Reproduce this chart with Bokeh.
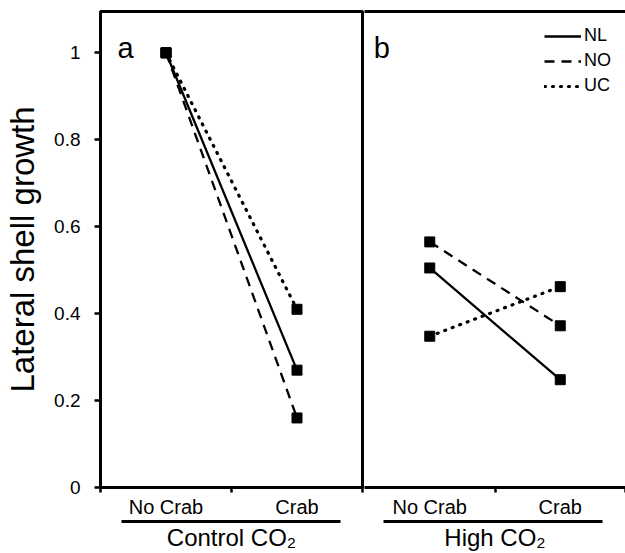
import numpy as np
from bokeh.plotting import figure
from bokeh.models import Range1d, LinearAxis, FixedTicker, Legend, LegendItem, Label
from bokeh.layouts import row
from bokeh.embed import file_html
from bokeh.resources import INLINE

# ---------------- data ----------------
categories = ["No Crab", "Crab"]
treatments = ["Control CO\u2082", "High CO\u2082"]
panel_letters = ["a", "b"]
series = ["NL", "NO", "UC"]

nl_control = [1.0, 0.27]
no_control = [1.0, 0.16]
uc_control = [1.0, 0.41]

nl_high = [0.505, 0.248]
no_high = [0.565, 0.372]
uc_high = [0.348, 0.462]

y_ticks = [0, 0.2, 0.4, 0.6, 0.8, 1.0]
y_tick_labels = ["0", "0.2", "0.4", "0.6", "0.8", "1"]
y_label = "Lateral shell growth"

panels = [
    {"NL": nl_control, "NO": no_control, "UC": uc_control},
    {"NL": nl_high, "NO": no_high, "UC": uc_high},
]

# ---------------- style ----------------
FONT = "Liberation Sans"
styles = {
    "NL": dict(line_dash="solid", line_width=2.3),
    "NO": dict(line_dash="10 7", line_width=2.3),
    "UC": dict(line_dash="1 7", line_width=3.2, line_cap="round"),
}
H = 553
Y_MAX = 1.095
xc = [float(v) for v in np.arange(len(categories)) + 0.5]
bounds_ticks = [float(v) for v in np.arange(len(categories) + 1)]


def make_panel(i, width, left_border, right_border):
    first = i == 0
    p = figure(width=width, height=H,
               x_range=Range1d(0, len(categories)), y_range=Range1d(0, Y_MAX),
               output_backend="svg", toolbar_location=None,
               x_axis_location=None, y_axis_location="left" if first else None,
               min_border=0, min_border_left=left_border, min_border_right=right_border,
               min_border_top=11, min_border_bottom=66)
    p.background_fill_color = "white"
    p.border_fill_color = "white"
    p.grid.visible = False

    if first:
        p.outline_line_color = "black"
        p.outline_line_width = 3
        ya = p.yaxis[0]
        ya.ticker = FixedTicker(ticks=y_ticks, minor_ticks=[])
        ya.major_label_overrides = {t: l for t, l in zip(y_ticks, y_tick_labels)}
        ya.major_tick_out = 6
        ya.major_tick_in = 0
        ya.major_tick_line_width = 2.5
        ya.minor_tick_out = 0
        ya.minor_tick_in = 0
        ya.axis_line_width = 3
        ya.major_label_text_font = FONT
        ya.major_label_text_font_size = "19px"
        ya.major_label_text_color = "black"
        ya.major_label_standoff = 14
        ya.axis_label = y_label
        ya.axis_label_text_font = FONT
        ya.axis_label_text_font_size = "33px"
        ya.axis_label_text_font_style = "normal"
        ya.axis_label_text_color = "black"
        ya.axis_label_standoff = 10
    else:
        p.outline_line_color = None
        top = LinearAxis(ticker=FixedTicker(ticks=[], minor_ticks=[]),
                         major_tick_out=0, major_tick_in=0, minor_tick_out=0, minor_tick_in=0,
                         major_label_standoff=0, axis_line_width=3,
                         major_label_text_font_size="0px")
        p.add_layout(top, "above")

    # category axis
    ax1 = LinearAxis(
        ticker=FixedTicker(ticks=xc, minor_ticks=bounds_ticks if first else bounds_ticks[1:]),
        major_label_overrides={x: c for x, c in zip(xc, categories)},
        major_tick_out=0, major_tick_in=0,
        minor_tick_out=5, minor_tick_in=0, minor_tick_line_width=2.5,
        axis_line_width=3,
        major_label_text_font=FONT, major_label_text_font_size="20px",
        major_label_text_color="black", major_label_standoff=3,
        axis_label=" ", axis_label_text_font_size="1px", axis_label_standoff=-3,
    )
    p.add_layout(ax1, "below")

    # treatment group axis (underline + label)
    b0, b1 = (0.16, 1.83) if first else (0.145, 1.82)
    ax2 = LinearAxis(
        ticker=FixedTicker(ticks=[], minor_ticks=[]), bounds=(b0, b1),
        major_tick_out=0, major_tick_in=0, minor_tick_out=0, minor_tick_in=0,
        major_label_standoff=0, major_label_text_font_size="0px",
        axis_line_width=3,
        axis_label=treatments[i], axis_label_text_font=FONT,
        axis_label_text_font_size="24px", axis_label_text_font_style="normal",
        axis_label_text_color="black", axis_label_standoff=2,
    )
    p.add_layout(ax2, "below")

    line_renderers = {}
    data = panels[i]
    for s in series:
        r = p.line(xc, data[s], line_color="black", **styles[s])
        line_renderers[s] = r
    for s in series:
        p.scatter(xc, data[s], marker="square", size=10, color="black")

    p.add_layout(Label(x=0.13 if first else 0.07, y=1.01, text=panel_letters[i],
                       text_font=FONT, text_font_size="29px", text_color="black",
                       text_baseline="alphabetic", text_align="left"))
    return p, line_renderers


pa, _ = make_panel(0, 364, 100, 2)
pb, lines_b = make_panel(1, 261, 0, 0)

legend = Legend(
    items=[LegendItem(label=s, renderers=[lines_b[s]]) for s in series],
    location="top_right", border_line_color=None, background_fill_alpha=0,
    label_text_font=FONT, label_text_font_size="18px", label_text_color="black",
    glyph_width=37, glyph_height=20, label_height=20, label_standoff=3,
    spacing=4, padding=0, margin=14,
)
pb.add_layout(legend)

layout = row(pa, pb)
open("out.html", "w").write(file_html(layout, INLINE))
